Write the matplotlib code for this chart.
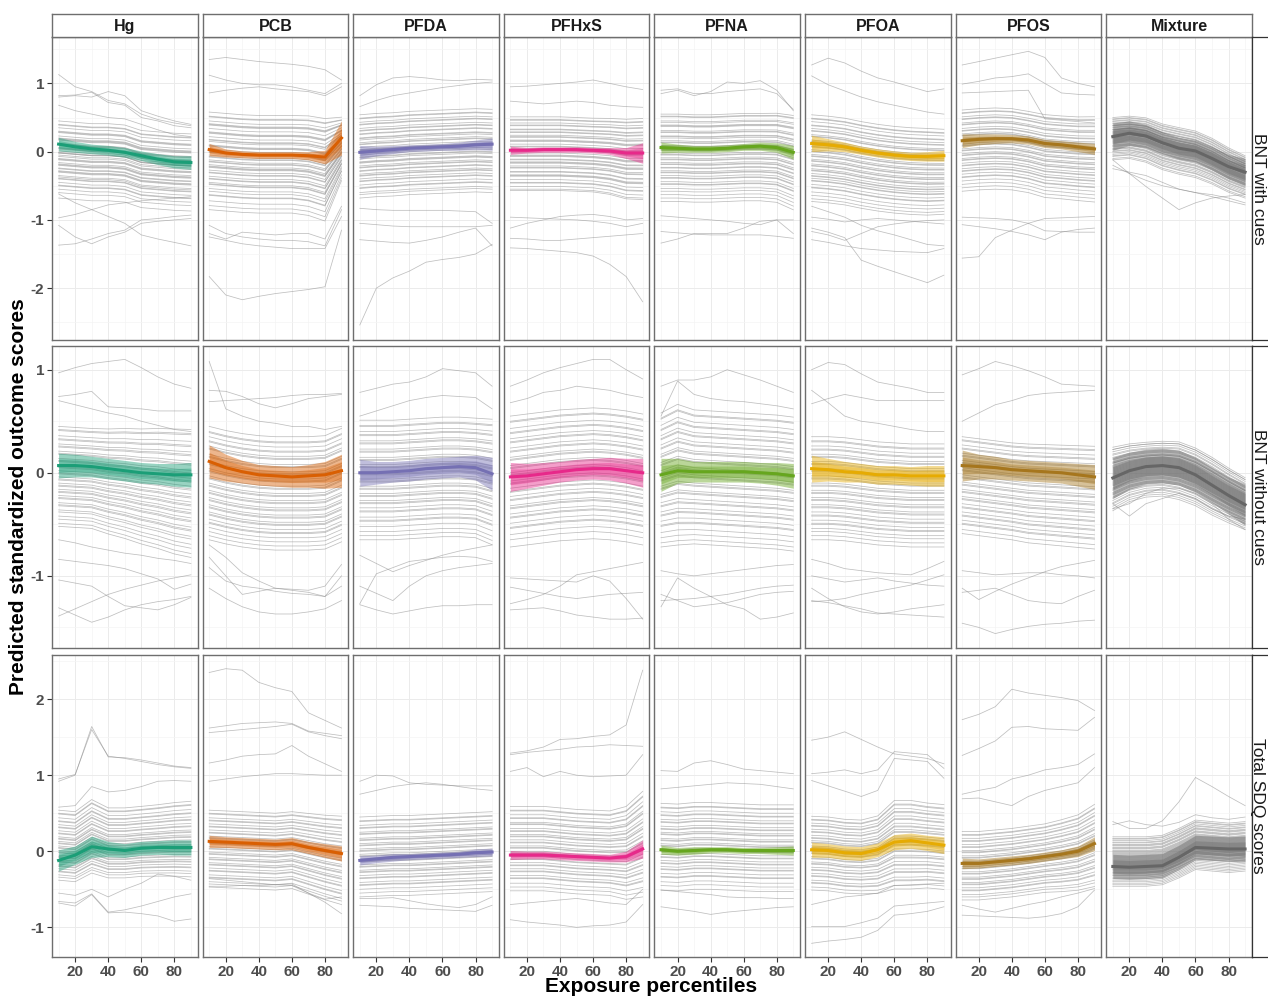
import matplotlib
matplotlib.use('Agg')
import matplotlib.pyplot as plt
import numpy as np
from matplotlib.ticker import FixedLocator

plt.rcParams['font.family'] = ['Liberation Sans', 'DejaVu Sans']
plt.rcParams['axes.unicode_minus'] = False

percentiles = [10, 20, 30, 40, 50, 60, 70, 80, 90]
exposures = ['Hg', 'PCB', 'PFDA', 'PFHxS', 'PFNA', 'PFOA', 'PFOS', 'Mixture']
outcomes = ['BNT with cues', 'BNT without cues', 'Total SDQ scores']
colors = ['#1B9E77', '#D95F02', '#7570B3', '#E7298A', '#66A61E', '#E6AB02', '#A6761D', '#666666']

# ---------------- BNT with cues ----------------
mean_cues = [
    [0.11, 0.07, 0.04, 0.02, -0.01, -0.06, -0.11, -0.15, -0.16],
    [0.03, -0.02, -0.04, -0.05, -0.05, -0.05, -0.06, -0.08, 0.20],
    [-0.01, 0.01, 0.03, 0.05, 0.06, 0.07, 0.08, 0.10, 0.11],
    [0.02, 0.02, 0.03, 0.03, 0.03, 0.02, 0.01, -0.02, -0.02],
    [0.06, 0.05, 0.04, 0.04, 0.05, 0.07, 0.08, 0.06, -0.01],
    [0.12, 0.10, 0.07, 0.02, -0.02, -0.05, -0.07, -0.07, -0.06],
    [0.16, 0.18, 0.19, 0.19, 0.17, 0.12, 0.10, 0.07, 0.04],
    [0.22, 0.27, 0.23, 0.13, 0.05, 0.01, -0.10, -0.22, -0.30],
]
band_cues = [
    [0.10, 0.08, 0.07, 0.07, 0.07, 0.07, 0.08, 0.09, 0.10],
    [0.09, 0.06, 0.05, 0.05, 0.05, 0.05, 0.06, 0.10, 0.25],
    [0.10, 0.07, 0.06, 0.05, 0.05, 0.05, 0.06, 0.07, 0.09],
    [0.06, 0.04, 0.04, 0.04, 0.04, 0.04, 0.05, 0.08, 0.15],
    [0.08, 0.06, 0.05, 0.05, 0.05, 0.05, 0.06, 0.07, 0.10],
    [0.12, 0.09, 0.07, 0.06, 0.06, 0.06, 0.06, 0.07, 0.08],
    [0.10, 0.08, 0.07, 0.06, 0.06, 0.06, 0.06, 0.07, 0.08],
    [0.20, 0.18, 0.17, 0.16, 0.16, 0.16, 0.17, 0.18, 0.20],
]
center_cues = [
    [-0.08, -0.10, -0.12, -0.12, -0.14, -0.22, -0.24, -0.26, -0.27],
    [-0.12, -0.14, -0.16, -0.17, -0.17, -0.17, -0.19, -0.25, 0.05],
    [-0.10, -0.08, -0.07, -0.05, -0.04, -0.03, -0.02, -0.01, -0.02],
    [-0.05, -0.05, -0.05, -0.05, -0.06, -0.07, -0.09, -0.13, -0.13],
    [-0.08, -0.08, -0.09, -0.09, -0.08, -0.07, -0.07, -0.08, -0.15],
    [-0.08, -0.10, -0.13, -0.18, -0.22, -0.25, -0.27, -0.28, -0.28],
    [-0.02, 0.00, 0.01, 0.00, -0.04, -0.10, -0.12, -0.14, -0.15],
    [0.18, 0.20, 0.16, 0.06, 0.00, -0.05, -0.15, -0.28, -0.38],
]
spread_cues = [
    [1, 1, 1, 1, 1, 1, 1, 1, 1],
    [1, 1, 1, 1, 1, 1, 1.02, 1.05, 0.65],
    [1, 1, 1, 1, 1, 1, 1, 1, 1],
    [1, 1, 1, 1, 1, 1, 1.03, 1.08, 1.1],
    [1, 1, 1, 1, 1, 1, 1, 1.02, 1.08],
    [1, 1, 1, 1, 1, 1, 1, 1, 0.98],
    [1, 1, 1, 1, 1, 1.02, 1.02, 1.03, 1.05],
    [1, 1, 1.05, 1.08, 1.1, 1.1, 1.08, 1.05, 1.0],
]
offsets_cues = [
    [0.53, 0.48, 0.47, 0.43, 0.38, 0.37, 0.36, 0.31, 0.28, 0.27, 0.26, 0.25, 0.20, 0.19, 0.18, 0.14,
     0.13, 0.12, 0.09, 0.07, 0.06, 0.06, 0.03, 0.01, -0.02, -0.03, -0.04, -0.08, -0.10, -0.11, -0.12,
     -0.16, -0.17, -0.20, -0.21, -0.22, -0.27, -0.29, -0.31, -0.32, -0.37, -0.41, -0.42, -0.47, -0.52,
     -0.60],
    [0.70, 0.64, 0.63, 0.57, 0.53, 0.52, 0.51, 0.46, 0.41, 0.40, 0.39, 0.34, 0.30, 0.29, 0.27, 0.22,
     0.21, 0.20, 0.16, 0.13, 0.12, 0.11, 0.07, 0.05, 0.04, 0.00, -0.02, -0.03, -0.07, -0.09, -0.10,
     -0.11, -0.15, -0.18, -0.19, -0.24, -0.27, -0.28, -0.33, -0.35, -0.36, -0.42, -0.46, -0.51, -0.52,
     -0.60, -0.67, -0.73],
    [0.64, 0.59, 0.58, 0.53, 0.50, 0.49, 0.44, 0.41, 0.40, 0.36, 0.35, 0.30, 0.29, 0.27, 0.23, 0.21,
     0.20, 0.16, 0.13, 0.12, 0.11, 0.07, 0.05, 0.02, 0.01, -0.01, -0.05, -0.06, -0.07, -0.11, -0.13,
     -0.14, -0.18, -0.19, -0.23, -0.25, -0.26, -0.30, -0.33, -0.34, -0.39, -0.43, -0.44, -0.50, -0.53,
     -0.58],
    [0.56, 0.52, 0.51, 0.47, 0.44, 0.43, 0.38, 0.37, 0.34, 0.33, 0.29, 0.27, 0.26, 0.22, 0.21, 0.20,
     0.16, 0.13, 0.12, 0.09, 0.08, 0.07, 0.03, 0.00, -0.01, -0.02, -0.06, -0.07, -0.10, -0.11, -0.12,
     -0.16, -0.18, -0.19, -0.24, -0.25, -0.29, -0.30, -0.31, -0.36, -0.40, -0.41, -0.46, -0.50, -0.52],
    [0.63, 0.60, 0.59, 0.53, 0.51, 0.47, 0.46, 0.45, 0.39, 0.37, 0.36, 0.31, 0.30, 0.28, 0.24, 0.22,
     0.21, 0.17, 0.16, 0.12, 0.11, 0.10, 0.06, 0.04, 0.03, -0.01, -0.03, -0.04, -0.08, -0.10, -0.11,
     -0.15, -0.16, -0.20, -0.22, -0.23, -0.27, -0.30, -0.31, -0.36, -0.39, -0.40, -0.46, -0.50, -0.55,
     -0.60, -0.65],
    [0.62, 0.57, 0.56, 0.52, 0.47, 0.46, 0.42, 0.39, 0.38, 0.33, 0.31, 0.30, 0.25, 0.23, 0.22, 0.18,
     0.16, 0.15, 0.11, 0.09, 0.08, 0.04, 0.02, 0.01, -0.03, -0.05, -0.06, -0.10, -0.12, -0.13, -0.17,
     -0.19, -0.20, -0.24, -0.27, -0.28, -0.31, -0.34, -0.35, -0.40, -0.44, -0.45, -0.51, -0.56, -0.61,
     -0.65],
    [0.63, 0.59, 0.58, 0.53, 0.50, 0.49, 0.44, 0.42, 0.41, 0.36, 0.33, 0.32, 0.28, 0.26, 0.25, 0.20,
     0.18, 0.17, 0.13, 0.11, 0.10, 0.06, 0.04, 0.03, -0.01, -0.03, -0.04, -0.08, -0.10, -0.11, -0.15,
     -0.18, -0.19, -0.23, -0.26, -0.27, -0.31, -0.35, -0.36, -0.41, -0.46, -0.51, -0.56],
    [0.32, 0.30, 0.29, 0.27, 0.26, 0.24, 0.23, 0.21, 0.20, 0.20, 0.18, 0.17, 0.15, 0.14, 0.14, 0.12,
     0.11, 0.10, 0.09, 0.08, 0.07, 0.06, 0.05, 0.05, 0.03, 0.02, 0.01, 0.00, -0.01, -0.02, -0.03,
     -0.04, -0.05, -0.06, -0.08, -0.09, -0.10, -0.11, -0.13, -0.14, -0.15, -0.17, -0.18, -0.20, -0.22,
     -0.24, -0.25, -0.28, -0.30],
]
extra_cues = [
    [[1.13, 0.95, 0.88, 0.75, 0.70, 0.55, 0.47, 0.42, 0.38],
     [0.82, 0.83, 0.87, 0.72, 0.68, 0.50, 0.45, 0.38, 0.35],
     [0.80, 0.82, 0.80, 0.88, 0.82, 0.60, 0.52, 0.45, 0.40],
     [0.68, 0.60, 0.55, 0.50, 0.48, 0.40, 0.32, 0.25, 0.22],
     [-1.37, -1.35, -1.28, -1.20, -1.15, -1.00, -0.98, -0.95, -0.93],
     [-1.08, -1.25, -1.35, -1.25, -1.18, -1.05, -1.02, -1.00, -0.98],
     [-0.97, -0.92, -0.85, -0.78, -0.75, -0.72, -0.70, -0.68, -0.66],
     [-0.62, -0.75, -0.85, -0.95, -1.05, -1.22, -1.28, -1.33, -1.38]],
    [[1.35, 1.38, 1.35, 1.32, 1.30, 1.28, 1.25, 1.20, 1.05],
     [1.12, 1.05, 1.00, 0.98, 0.98, 0.95, 0.90, 0.85, 1.00],
     [0.86, 0.90, 0.93, 0.95, 0.92, 0.90, 0.88, 0.82, 0.95],
     [-1.83, -2.10, -2.17, -2.12, -2.08, -2.05, -2.02, -1.98, -1.15],
     [-1.08, -1.20, -1.25, -1.28, -1.30, -1.30, -1.32, -1.38, -0.85],
     [-1.25, -1.30, -1.35, -1.38, -1.40, -1.42, -1.42, -1.42, -0.95],
     [-1.20, -1.28, -1.18, -1.20, -1.22, -1.20, -1.20, -1.28, -0.80]],
    [[0.82, 0.98, 1.08, 1.10, 1.08, 1.05, 1.04, 1.06, 1.05],
     [0.66, 0.75, 0.82, 0.86, 0.90, 0.94, 0.97, 1.00, 1.02],
     [-2.54, -2.00, -1.85, -1.75, -1.62, -1.58, -1.55, -1.50, -1.36],
     [-1.29, -1.31, -1.33, -1.34, -1.30, -1.25, -1.18, -1.12, -1.38],
     [-1.05, -1.07, -1.09, -1.10, -1.10, -1.10, -1.10, -1.10, -1.08],
     [-0.83, -0.85, -0.86, -0.86, -0.86, -0.86, -0.87, -0.88, -1.05]],
    [[0.95, 0.96, 0.98, 1.00, 1.02, 1.05, 1.00, 0.95, 0.91],
     [0.74, 0.72, 0.70, 0.72, 0.74, 0.72, 0.68, 0.66, 0.65],
     [-1.41, -1.42, -1.44, -1.46, -1.48, -1.53, -1.65, -1.83, -2.20],
     [-1.27, -1.28, -1.30, -1.30, -1.28, -1.26, -1.24, -1.22, -1.20],
     [-0.96, -0.97, -0.98, -0.99, -1.00, -1.02, -1.05, -1.10, -1.05],
     [-1.12, -1.05, -1.00, -0.95, -0.93, -0.92, -0.95, -1.00, -0.98]],
    [[0.85, 0.90, 0.82, 0.88, 1.02, 1.00, 1.04, 0.90, 0.60],
     [0.90, 0.92, 0.85, 0.85, 0.88, 0.90, 0.92, 0.85, 0.62],
     [-1.34, -1.28, -1.20, -1.20, -1.20, -1.12, -1.02, -1.00, -1.00],
     [-1.17, -1.19, -1.21, -1.22, -1.22, -1.22, -1.22, -1.24, -1.27],
     [-0.94, -0.96, -0.98, -1.00, -1.02, -1.05, -1.07, -1.00, -1.20]],
    [[1.27, 1.37, 1.30, 1.18, 1.08, 1.02, 0.95, 0.88, 0.92],
     [1.11, 0.98, 0.89, 0.80, 0.73, 0.68, 0.63, 0.58, 0.55],
     [-1.12, -1.18, -1.26, -1.59, -1.68, -1.76, -1.84, -1.92, -1.81],
     [-1.17, -1.22, -1.30, -1.20, -1.10, -1.06, -1.03, -1.01, -1.00],
     [-1.29, -1.33, -1.38, -1.42, -1.44, -1.46, -1.47, -1.48, -1.42],
     [-0.80, -0.88, -0.96, -1.08, -1.16, -1.22, -1.29, -1.36, -1.38],
     [-0.96, -0.99, -1.03, -1.00, -0.98, -1.00, -1.02, -1.04, -1.06]],
    [[1.27, 1.32, 1.37, 1.42, 1.47, 1.38, 1.08, 1.00, 0.95],
     [0.99, 1.03, 1.08, 1.10, 1.14, 1.00, 0.86, 0.84, 0.83],
     [0.86, 0.87, 0.88, 0.89, 0.90, 0.48, 0.46, 0.44, 0.42],
     [-1.56, -1.54, -1.26, -1.15, -1.05, -0.98, -0.97, -0.96, -0.95],
     [-1.07, -1.10, -1.13, -1.17, -1.22, -1.29, -1.18, -1.14, -1.12],
     [-0.96, -0.97, -0.98, -1.00, -1.05, -1.16, -1.17, -1.18, -1.18]],
    [[-0.12, -0.32, -0.51, -0.68, -0.85, -0.75, -0.68, -0.65, -0.63],
     [-0.20, -0.32, -0.42, -0.50, -0.55, -0.60, -0.63, -0.68, -0.75],
     [-0.25, -0.30, -0.35, -0.45, -0.55, -0.60, -0.66, -0.72, -0.78]],
]

# ---------------- BNT without cues ----------------
mean_nocues = [
    [0.07, 0.07, 0.06, 0.04, 0.02, 0.00, -0.01, -0.02, -0.02],
    [0.11, 0.05, 0.01, -0.02, -0.03, -0.04, -0.03, -0.02, 0.02],
    [0.00, 0.00, 0.01, 0.02, 0.04, 0.05, 0.06, 0.05, -0.01],
    [-0.04, -0.03, -0.01, 0.01, 0.03, 0.04, 0.04, 0.02, 0.00],
    [-0.02, 0.02, 0.01, 0.01, 0.01, 0.01, 0.00, -0.01, -0.03],
    [0.04, 0.03, 0.01, 0.00, -0.02, -0.02, -0.03, -0.03, -0.03],
    [0.07, 0.06, 0.05, 0.03, 0.02, 0.01, 0.00, -0.02, -0.04],
    [-0.05, 0.02, 0.06, 0.07, 0.05, -0.02, -0.12, -0.22, -0.31],
]
band_nocues = [
    [0.12, 0.11, 0.10, 0.10, 0.10, 0.10, 0.10, 0.11, 0.12],
    [0.16, 0.13, 0.11, 0.10, 0.10, 0.10, 0.11, 0.13, 0.16],
    [0.13, 0.11, 0.10, 0.10, 0.10, 0.10, 0.10, 0.12, 0.16],
    [0.14, 0.12, 0.11, 0.10, 0.10, 0.10, 0.11, 0.12, 0.14],
    [0.16, 0.12, 0.10, 0.10, 0.10, 0.10, 0.10, 0.11, 0.12],
    [0.13, 0.11, 0.10, 0.09, 0.09, 0.09, 0.09, 0.10, 0.10],
    [0.15, 0.12, 0.11, 0.10, 0.10, 0.10, 0.10, 0.11, 0.12],
    [0.20, 0.18, 0.17, 0.17, 0.17, 0.17, 0.17, 0.18, 0.20],
]
center_nocues = [
    [-0.05, -0.06, -0.07, -0.10, -0.12, -0.15, -0.17, -0.20, -0.22],
    [-0.10, -0.14, -0.17, -0.19, -0.20, -0.20, -0.20, -0.19, -0.12],
    [-0.08, -0.08, -0.08, -0.07, -0.06, -0.05, -0.05, -0.06, -0.10],
    [-0.12, -0.10, -0.08, -0.06, -0.05, -0.04, -0.05, -0.07, -0.10],
    [-0.10, -0.05, -0.07, -0.08, -0.09, -0.10, -0.11, -0.12, -0.14],
    [-0.15, -0.15, -0.16, -0.18, -0.20, -0.21, -0.22, -0.22, -0.22],
    [-0.10, -0.12, -0.14, -0.16, -0.18, -0.19, -0.20, -0.21, -0.22],
    [-0.06, 0.00, 0.03, 0.04, 0.02, -0.04, -0.13, -0.22, -0.30],
]
spread_nocues = [
    [1, 1, 1, 1.05, 1.1, 1.15, 1.2, 1.25, 1.28],
    [1, 1, 1, 1, 1, 1, 1, 1, 1],
    [1, 1, 1, 1, 1, 1, 1, 1, 1.05],
    [1, 1, 1, 1, 1, 1, 1, 1, 1],
    [1, 1.05, 1, 1, 1, 1, 1, 1, 1],
    [1, 1, 1, 1, 1, 1, 1, 1, 1],
    [1, 1, 1, 1, 1.02, 1.03, 1.04, 1.05, 1.06],
    [1.1, 1.0, 0.95, 0.95, 1.0, 1.0, 1.0, 0.95, 0.9],
]
offsets_nocues = [
    [0.50, 0.47, 0.46, 0.41, 0.38, 0.37, 0.33, 0.31, 0.30, 0.26, 0.24, 0.23, 0.19, 0.17, 0.16, 0.13,
     0.11, 0.10, 0.07, 0.05, 0.04, 0.01, -0.01, -0.02, -0.05, -0.07, -0.08, -0.11, -0.13, -0.14, -0.17,
     -0.19, -0.20, -0.24, -0.26, -0.27, -0.31, -0.33, -0.37, -0.40, -0.44, -0.47],
    [0.55, 0.50, 0.49, 0.45, 0.41, 0.40, 0.36, 0.34, 0.33, 0.28, 0.26, 0.25, 0.21, 0.19, 0.18, 0.14,
     0.12, 0.11, 0.07, 0.05, 0.04, 0.00, -0.02, -0.03, -0.07, -0.09, -0.10, -0.14, -0.16, -0.17, -0.21,
     -0.23, -0.24, -0.28, -0.30, -0.31, -0.35, -0.38, -0.39, -0.43, -0.47, -0.51, -0.55],
    [0.59, 0.54, 0.53, 0.48, 0.45, 0.44, 0.39, 0.37, 0.36, 0.31, 0.29, 0.28, 0.23, 0.21, 0.20, 0.16,
     0.14, 0.13, 0.09, 0.07, 0.06, 0.02, 0.00, -0.01, -0.05, -0.07, -0.08, -0.12, -0.14, -0.15, -0.19,
     -0.21, -0.22, -0.26, -0.29, -0.30, -0.35, -0.38, -0.39, -0.44, -0.49, -0.53, -0.57],
    [0.67, 0.62, 0.61, 0.55, 0.51, 0.50, 0.45, 0.42, 0.41, 0.36, 0.33, 0.32, 0.27, 0.25, 0.24, 0.19,
     0.17, 0.16, 0.12, 0.10, 0.09, 0.04, 0.02, 0.01, -0.03, -0.06, -0.07, -0.11, -0.14, -0.15, -0.20,
     -0.22, -0.23, -0.28, -0.31, -0.32, -0.37, -0.41, -0.42, -0.48, -0.53, -0.60],
    [0.68, 0.63, 0.62, 0.56, 0.52, 0.51, 0.46, 0.43, 0.42, 0.37, 0.34, 0.33, 0.28, 0.26, 0.25, 0.20,
     0.18, 0.17, 0.12, 0.10, 0.09, 0.05, 0.03, 0.02, -0.03, -0.05, -0.06, -0.11, -0.13, -0.14, -0.19,
     -0.22, -0.23, -0.28, -0.31, -0.32, -0.37, -0.41, -0.42, -0.48, -0.53, -0.58, -0.62],
    [0.50, 0.46, 0.45, 0.41, 0.38, 0.37, 0.33, 0.31, 0.30, 0.26, 0.24, 0.23, 0.19, 0.17, 0.16, 0.12,
     0.10, 0.09, 0.05, 0.03, 0.02, -0.02, -0.04, -0.05, -0.09, -0.11, -0.12, -0.16, -0.18, -0.19, -0.23,
     -0.26, -0.27, -0.31, -0.34, -0.35, -0.39, -0.42, -0.46, -0.50],
    [0.45, 0.42, 0.41, 0.37, 0.34, 0.33, 0.29, 0.27, 0.26, 0.22, 0.20, 0.19, 0.15, 0.13, 0.12, 0.08,
     0.06, 0.05, 0.01, -0.01, -0.02, -0.06, -0.08, -0.09, -0.13, -0.15, -0.16, -0.20, -0.23, -0.24,
     -0.28, -0.31, -0.32, -0.36, -0.39, -0.40, -0.45, -0.49],
    [0.28, 0.26, 0.26, 0.24, 0.22, 0.21, 0.19, 0.18, 0.17, 0.15, 0.14, 0.14, 0.12, 0.11, 0.10, 0.09,
     0.08, 0.07, 0.06, 0.05, 0.04, 0.03, 0.02, 0.01, 0.00, -0.01, -0.02, -0.03, -0.04, -0.05, -0.06,
     -0.08, -0.09, -0.10, -0.12, -0.13, -0.14, -0.16, -0.17, -0.19, -0.21, -0.22, -0.24, -0.26, -0.28],
]
extra_nocues = [
    [[0.97, 1.02, 1.06, 1.08, 1.10, 1.02, 0.93, 0.86, 0.82],
     [0.74, 0.76, 0.79, 0.64, 0.63, 0.62, 0.60, 0.60, 0.60],
     [0.70, 0.66, 0.62, 0.58, 0.55, 0.50, 0.46, 0.42, 0.40],
     [-1.31, -1.38, -1.45, -1.40, -1.33, -1.28, -1.25, -1.23, -1.20],
     [-1.39, -1.32, -1.25, -1.18, -1.13, -1.09, -1.05, -1.02, -0.99],
     [-1.04, -1.07, -1.10, -1.20, -1.29, -1.31, -1.33, -1.28, -1.21],
     [-0.84, -0.86, -0.88, -0.90, -0.93, -0.98, -1.03, -1.13, -1.08],
     [-0.65, -0.68, -0.72, -0.75, -0.78, -0.80, -0.83, -0.85, -0.88]],
    [[1.08, 0.62, 0.55, 0.50, 0.48, 0.45, 0.45, 0.42, 0.45],
     [0.80, 0.79, 0.74, 0.67, 0.63, 0.67, 0.72, 0.74, 0.76],
     [0.69, 0.70, 0.71, 0.72, 0.73, 0.75, 0.76, 0.76, 0.77],
     [-0.70, -0.82, -0.97, -1.05, -1.12, -1.14, -1.16, -1.20, -1.10],
     [-0.82, -1.00, -1.18, -1.15, -1.12, -1.13, -1.14, -1.10, -0.89],
     [-0.92, -1.05, -1.10, -1.12, -1.15, -1.17, -1.18, -1.20, -1.00],
     [-1.12, -1.22, -1.30, -1.35, -1.37, -1.37, -1.35, -1.32, -1.24]],
    [[0.78, 0.82, 0.86, 0.88, 0.93, 1.01, 0.99, 0.97, 0.84],
     [0.55, 0.60, 0.65, 0.70, 0.73, 0.75, 0.74, 0.73, 0.62],
     [-1.27, -0.98, -0.92, -0.86, -0.84, -0.82, -0.81, -0.82, -0.86],
     [-1.10, -1.17, -1.24, -1.10, -1.00, -0.95, -0.92, -0.90, -0.88],
     [-1.28, -1.33, -1.37, -1.34, -1.31, -1.29, -1.29, -1.28, -1.28],
     [-0.80, -0.88, -0.96, -0.90, -0.85, -0.80, -0.76, -0.73, -0.70]],
    [[0.84, 0.90, 0.97, 1.02, 1.06, 1.10, 1.10, 1.00, 0.91],
     [0.68, 0.72, 0.78, 0.80, 0.84, 0.82, 0.80, 0.76, 0.73],
     [-1.27, -1.23, -1.18, -1.10, -0.99, -0.96, -0.93, -0.90, -0.87],
     [-1.33, -1.32, -1.31, -1.34, -1.38, -1.40, -1.42, -1.42, -1.41],
     [-1.11, -1.14, -1.17, -1.20, -1.22, -1.20, -1.18, -1.17, -1.16],
     [-1.02, -1.03, -1.04, -1.05, -1.06, -1.00, -1.05, -1.22, -1.42]],
    [[0.84, 0.90, 0.90, 0.93, 1.00, 0.95, 0.90, 0.84, 0.78],
     [0.55, 0.89, 0.76, 0.72, 0.70, 0.69, 0.67, 0.65, 0.62],
     [-1.30, -1.02, -1.12, -1.20, -1.28, -1.32, -1.42, -1.40, -1.36],
     [-1.18, -1.24, -1.30, -1.28, -1.26, -1.22, -1.18, -1.16, -1.15],
     [-1.24, -1.23, -1.22, -1.20, -1.18, -1.15, -1.12, -1.10, -1.09],
     [-0.95, -0.98, -1.00, -0.98, -0.96, -0.94, -0.92, -0.90, -0.89]],
    [[1.00, 1.07, 1.05, 0.96, 0.88, 0.85, 0.82, 0.78, 0.78],
     [0.80, 0.68, 0.55, 0.50, 0.48, 0.45, 0.42, 0.40, 0.40],
     [0.67, 0.72, 0.76, 0.73, 0.70, 0.70, 0.70, 0.70, 0.70],
     [-1.24, -1.26, -1.29, -1.32, -1.36, -1.37, -1.38, -1.39, -1.40],
     [-1.12, -1.22, -1.30, -1.35, -1.37, -1.35, -1.32, -1.30, -1.28],
     [-1.25, -1.24, -1.22, -1.18, -1.15, -1.12, -1.09, -1.04, -0.99],
     [-0.84, -0.88, -0.93, -0.95, -0.97, -0.98, -0.99, -0.93, -0.86],
     [-1.00, -1.03, -1.06, -1.04, -1.02, -1.05, -1.07, -1.09, -1.10]],
    [[0.95, 1.01, 1.08, 1.04, 0.99, 0.93, 0.86, 0.85, 0.84],
     [0.50, 0.58, 0.66, 0.70, 0.75, 0.77, 0.78, 0.79, 0.80],
     [-1.46, -1.50, -1.56, -1.52, -1.49, -1.47, -1.46, -1.44, -1.43],
     [-1.12, -1.23, -1.15, -1.08, -1.02, -0.96, -0.91, -0.88, -0.85],
     [-1.16, -1.14, -1.12, -1.18, -1.24, -1.26, -1.27, -1.20, -1.14],
     [-0.95, -0.97, -0.99, -0.98, -0.97, -0.97, -0.99, -1.00, -1.02]],
    [[-0.30, -0.42, -0.30, -0.25, -0.20, -0.25, -0.35, -0.42, -0.45],
     [-0.35, -0.30, -0.20, -0.15, -0.15, -0.20, -0.30, -0.45, -0.55]],
]

# ---------------- Total SDQ scores ----------------
mean_sdq = [
    [-0.12, -0.05, 0.06, 0.03, 0.01, 0.04, 0.05, 0.05, 0.05],
    [0.13, 0.12, 0.11, 0.10, 0.09, 0.10, 0.05, 0.01, -0.03],
    [-0.12, -0.10, -0.08, -0.07, -0.06, -0.05, -0.04, -0.02, -0.01],
    [-0.05, -0.05, -0.05, -0.06, -0.07, -0.08, -0.09, -0.07, 0.03],
    [0.02, 0.00, 0.01, 0.02, 0.02, 0.01, 0.01, 0.01, 0.01],
    [0.02, 0.01, -0.02, -0.03, 0.02, 0.12, 0.14, 0.11, 0.08],
    [-0.16, -0.16, -0.14, -0.12, -0.10, -0.07, -0.04, 0.00, 0.10],
    [-0.20, -0.21, -0.20, -0.19, -0.08, 0.05, 0.04, 0.03, 0.03],
]
band_sdq = [
    [0.14, 0.12, 0.14, 0.10, 0.09, 0.09, 0.09, 0.10, 0.10],
    [0.08, 0.07, 0.07, 0.07, 0.07, 0.08, 0.08, 0.09, 0.10],
    [0.06, 0.05, 0.05, 0.04, 0.04, 0.04, 0.04, 0.05, 0.05],
    [0.06, 0.05, 0.05, 0.05, 0.05, 0.05, 0.05, 0.07, 0.12],
    [0.06, 0.05, 0.05, 0.04, 0.04, 0.04, 0.04, 0.05, 0.06],
    [0.10, 0.09, 0.09, 0.09, 0.09, 0.10, 0.10, 0.10, 0.11],
    [0.07, 0.06, 0.06, 0.06, 0.06, 0.06, 0.06, 0.07, 0.09],
    [0.16, 0.16, 0.16, 0.16, 0.16, 0.16, 0.16, 0.16, 0.17],
]
center_sdq = [
    [-0.05, -0.07, 0.06, -0.02, -0.02, 0.00, 0.01, 0.02, 0.02],
    [0.00, -0.01, -0.02, -0.03, -0.04, -0.02, -0.07, -0.12, -0.16],
    [-0.10, -0.09, -0.08, -0.08, -0.07, -0.06, -0.05, -0.04, -0.03],
    [0.00, 0.00, 0.00, -0.02, -0.04, -0.05, -0.06, -0.06, 0.05],
    [0.02, 0.01, 0.03, 0.03, 0.02, 0.01, 0.00, 0.00, 0.00],
    [-0.03, -0.04, -0.07, -0.08, -0.05, 0.08, 0.08, 0.07, 0.05],
    [-0.22, -0.22, -0.20, -0.18, -0.15, -0.12, -0.09, -0.05, 0.04],
    [-0.13, -0.13, -0.13, -0.11, -0.02, 0.09, 0.07, 0.05, 0.07],
]
spread_sdq = [
    [1, 1, 1.05, 1, 1, 1, 1.02, 1.05, 1.08],
    [1, 1, 1, 1, 1, 1, 1.05, 1.1, 1.15],
    [1, 1, 1, 1, 1, 1, 1, 1, 1],
    [1, 1, 1, 1, 1, 1, 1, 1.1, 1.25],
    [1, 1, 1, 1, 1, 1, 1, 1, 1],
    [1, 1, 1, 1, 1.05, 1.2, 1.2, 1.15, 1.15],
    [1, 1, 1, 1, 1, 1, 1.05, 1.1, 1.2],
    [1, 1, 1, 1, 1, 1, 1, 1, 1],
]
offsets_sdq = [
    [0.59, 0.55, 0.54, 0.49, 0.45, 0.44, 0.40, 0.37, 0.36, 0.32, 0.29, 0.28, 0.24, 0.22, 0.21, 0.18,
     0.16, 0.15, 0.12, 0.10, 0.09, 0.06, 0.04, 0.03, 0.00, -0.02, -0.03, -0.06, -0.08, -0.09, -0.12,
     -0.14, -0.15, -0.18, -0.21, -0.22, -0.26, -0.29, -0.33],
    [0.54, 0.50, 0.49, 0.44, 0.41, 0.40, 0.36, 0.33, 0.32, 0.28, 0.25, 0.24, 0.20, 0.18, 0.17, 0.13,
     0.11, 0.10, 0.06, 0.04, 0.03, -0.01, -0.03, -0.04, -0.08, -0.10, -0.11, -0.15, -0.17, -0.18, -0.22,
     -0.25, -0.26, -0.31, -0.34, -0.35, -0.40, -0.43, -0.47],
    [0.55, 0.50, 0.49, 0.44, 0.41, 0.40, 0.35, 0.33, 0.32, 0.27, 0.25, 0.24, 0.20, 0.18, 0.17, 0.13,
     0.11, 0.10, 0.06, 0.04, 0.03, -0.01, -0.03, -0.04, -0.08, -0.10, -0.11, -0.15, -0.17, -0.18, -0.22,
     -0.25, -0.26, -0.31, -0.34, -0.35, -0.40, -0.45, -0.50],
    [0.59, 0.54, 0.53, 0.48, 0.44, 0.43, 0.38, 0.36, 0.35, 0.30, 0.27, 0.26, 0.22, 0.20, 0.19, 0.15,
     0.12, 0.11, 0.07, 0.05, 0.04, 0.00, -0.02, -0.03, -0.07, -0.10, -0.11, -0.15, -0.18, -0.19, -0.23,
     -0.26, -0.27, -0.32, -0.35, -0.36, -0.42, -0.47, -0.52],
    [0.61, 0.56, 0.55, 0.50, 0.46, 0.45, 0.40, 0.37, 0.36, 0.31, 0.28, 0.27, 0.23, 0.21, 0.20, 0.15,
     0.13, 0.12, 0.08, 0.06, 0.05, 0.01, -0.01, -0.02, -0.06, -0.09, -0.10, -0.14, -0.17, -0.18, -0.22,
     -0.25, -0.26, -0.31, -0.35, -0.36, -0.42, -0.47, -0.53],
    [0.49, 0.45, 0.44, 0.40, 0.37, 0.36, 0.32, 0.29, 0.28, 0.24, 0.21, 0.20, 0.17, 0.15, 0.14, 0.10,
     0.08, 0.07, 0.03, 0.01, 0.00, -0.04, -0.06, -0.07, -0.11, -0.13, -0.14, -0.18, -0.21, -0.22, -0.26,
     -0.29, -0.30, -0.35, -0.38, -0.39, -0.44, -0.48],
    [0.48, 0.44, 0.43, 0.39, 0.36, 0.35, 0.31, 0.28, 0.27, 0.23, 0.21, 0.20, 0.16, 0.14, 0.13, 0.09,
     0.07, 0.06, 0.02, 0.00, -0.01, -0.05, -0.07, -0.08, -0.12, -0.14, -0.15, -0.19, -0.21, -0.22,
     -0.26, -0.29, -0.30, -0.35, -0.38, -0.42],
    [0.32, 0.30, 0.29, 0.27, 0.25, 0.24, 0.22, 0.21, 0.20, 0.18, 0.17, 0.16, 0.14, 0.13, 0.12, 0.11,
     0.10, 0.09, 0.08, 0.07, 0.06, 0.05, 0.04, 0.03, 0.02, 0.01, 0.00, -0.01, -0.02, -0.03, -0.04,
     -0.05, -0.06, -0.07, -0.09, -0.10, -0.11, -0.12, -0.14, -0.15, -0.16, -0.18, -0.19, -0.21, -0.23,
     -0.25, -0.27, -0.29, -0.31, -0.33],
]
extra_sdq = [
    [[0.92, 1.00, 1.64, 1.24, 1.23, 1.20, 1.16, 1.12, 1.10],
     [0.95, 1.01, 1.60, 1.25, 1.22, 1.18, 1.14, 1.11, 1.09],
     [0.58, 0.60, 0.85, 0.78, 0.80, 0.85, 0.92, 0.93, 0.92],
     [-0.68, -0.72, -0.57, -0.81, -0.80, -0.82, -0.85, -0.92, -0.89],
     [-0.66, -0.68, -0.56, -0.80, -0.77, -0.72, -0.66, -0.60, -0.56],
     [-0.55, -0.58, -0.50, -0.60, -0.50, -0.42, -0.30, -0.33, -0.38]],
    [[2.35, 2.40, 2.38, 2.22, 2.15, 2.10, 1.82, 1.72, 1.62],
     [1.62, 1.65, 1.68, 1.69, 1.70, 1.68, 1.58, 1.55, 1.52],
     [1.56, 1.58, 1.60, 1.62, 1.64, 1.67, 1.57, 1.52, 1.48],
     [1.16, 1.20, 1.25, 1.27, 1.28, 1.39, 1.25, 1.15, 1.05],
     [0.92, 0.95, 0.98, 1.00, 1.02, 1.02, 1.01, 1.00, 1.00],
     [-0.46, -0.46, -0.45, -0.45, -0.44, -0.43, -0.55, -0.67, -0.82],
     [-0.36, -0.38, -0.40, -0.42, -0.44, -0.45, -0.55, -0.63, -0.60]],
    [[0.92, 1.00, 0.99, 0.90, 0.88, 0.87, 0.86, 0.86, 0.86],
     [0.75, 0.80, 0.85, 0.88, 0.90, 0.88, 0.85, 0.82, 0.80],
     [-0.71, -0.72, -0.73, -0.75, -0.76, -0.77, -0.78, -0.79, -0.71],
     [-0.62, -0.62, -0.61, -0.65, -0.69, -0.72, -0.74, -0.70, -0.60]],
    [[1.29, 1.32, 1.37, 1.47, 1.48, 1.51, 1.53, 1.66, 2.38],
     [1.27, 1.30, 1.32, 1.34, 1.37, 1.38, 1.40, 1.39, 1.38],
     [1.05, 1.10, 0.98, 1.05, 1.00, 0.98, 0.99, 1.00, 1.27],
     [-0.90, -0.93, -0.95, -0.97, -1.00, -0.98, -0.97, -0.93, -0.70],
     [-0.70, -0.68, -0.66, -0.64, -0.62, -0.65, -0.68, -0.70, -0.50]],
    [[1.06, 1.05, 1.16, 1.19, 1.14, 1.08, 1.06, 1.04, 1.02],
     [0.82, 0.84, 0.86, 0.88, 0.90, 0.89, 0.88, 0.85, 0.82],
     [-0.73, -0.76, -0.79, -0.83, -0.80, -0.78, -0.76, -0.74, -0.73],
     [-0.51, -0.53, -0.55, -0.57, -0.60, -0.61, -0.61, -0.62, -0.62]],
    [[1.46, 1.50, 1.57, 1.47, 1.37, 1.28, 1.25, 1.22, 1.15],
     [1.02, 1.04, 1.07, 1.02, 1.07, 1.31, 1.29, 1.27, 1.09],
     [0.93, 0.86, 0.79, 0.72, 0.80, 1.22, 1.20, 1.18, 0.96],
     [-1.21, -1.18, -1.16, -1.13, -1.04, -0.84, -0.82, -0.79, -0.73],
     [-0.99, -0.99, -0.99, -0.94, -0.88, -0.72, -0.70, -0.68, -0.66],
     [-0.70, -0.65, -0.60, -0.58, -0.55, -0.45, -0.44, -0.43, -0.42]],
    [[1.73, 1.80, 1.90, 2.13, 2.08, 2.05, 2.02, 1.98, 1.85],
     [1.26, 1.35, 1.45, 1.63, 1.64, 1.61, 1.60, 1.59, 1.76],
     [0.75, 0.80, 0.84, 0.95, 1.00, 1.07, 1.10, 1.14, 1.28],
     [0.69, 0.70, 0.65, 0.60, 0.72, 0.80, 0.85, 0.90, 1.10],
     [-0.84, -0.85, -0.86, -0.87, -0.88, -0.86, -0.82, -0.73, -0.51],
     [-0.71, -0.76, -0.80, -0.75, -0.70, -0.66, -0.60, -0.55, -0.49]],
    [[0.39, 0.30, 0.30, 0.40, 0.65, 0.97, 0.85, 0.72, 0.60],
     [0.35, 0.40, 0.35, 0.33, 0.38, 0.48, 0.44, 0.42, 0.45]],
]

rows = [
    (mean_cues, band_cues, center_cues, spread_cues, offsets_cues, extra_cues),
    (mean_nocues, band_nocues, center_nocues, spread_nocues, offsets_nocues, extra_nocues),
    (mean_sdq, band_sdq, center_sdq, spread_sdq, offsets_sdq, extra_sdq),
]
ylims = [(-2.76, 1.68), (-1.70, 1.23), (-1.39, 2.58)]
yticks = [[-2, -1, 0, 1], [-1, 0, 1], [-1, 0, 1, 2]]

W, H = 1268, 998
fig = plt.figure(figsize=(W / 100, H / 100), dpi=100)


def px_axes(left, top, width, height):
    # place an axes using pixel coordinates measured from the top-left corner
    return fig.add_axes([left / W, 1 - (top + height) / H, width / W, height / H])


border = '#6E6E6E'
grey_line = dict(color='#8A8A8A', alpha=0.55, lw=0.55, zorder=1)
tick_kw = dict(fontsize=11, fontweight='bold', color='#4D4D4D')
row_tops = [37, 346, 655]
row_h = [303, 302, 302]
x = np.array(percentiles)

for r, (means, bands, centers, spreads, offsets, extras) in enumerate(rows):
    for c in range(8):
        left = 52 + c * 150.6
        ax = px_axes(left, row_tops[r], 145.5, row_h[r])
        ax.set_xlim(6, 94)
        ax.set_ylim(*ylims[r])
        ax.xaxis.set_major_locator(FixedLocator([20, 40, 60, 80]))
        ax.xaxis.set_minor_locator(FixedLocator([10, 30, 50, 70, 90]))
        ax.yaxis.set_major_locator(FixedLocator(yticks[r]))
        ax.yaxis.set_minor_locator(FixedLocator([v + 0.5 for v in range(-3, 3)]))
        ax.grid(which='major', color='#EBEBEB', lw=0.7, zorder=0)
        ax.grid(which='minor', color='#F4F4F4', lw=0.5, zorder=0)
        ax.set_axisbelow(True)
        for s in ax.spines.values():
            s.set_color(border)
            s.set_linewidth(1.0)

        # individual predicted curves
        cen = np.array(centers[c])
        spr = np.array(spreads[c])
        for off in offsets[c]:
            ax.plot(x, cen + off * spr, **grey_line)
        for line in extras[c]:
            ax.plot(x, line, **grey_line)

        # overall curve with its uncertainty band
        m = np.array(means[c])
        b = np.array(bands[c])
        ax.fill_between(x, m - b, m + b, color=colors[c], alpha=0.45, lw=0, zorder=2)
        ax.fill_between(x, m - b * 0.55, m + b * 0.55, color=colors[c], alpha=0.35, lw=0, zorder=2)
        ax.plot(x, m, color=colors[c], lw=2.2, zorder=3)

        if r == 2:
            ax.tick_params(axis='x', which='major', length=3.5, width=0.8, color='#333333', pad=2)
            ax.set_xticklabels(['20', '40', '60', '80'], **tick_kw)
        else:
            ax.tick_params(axis='x', which='major', length=0, labelbottom=False)
        if c == 0:
            ax.tick_params(axis='y', which='major', length=3.5, width=0.8, color='#333333', pad=2)
            ax.set_yticklabels([str(v) for v in yticks[r]], **tick_kw)
        else:
            ax.tick_params(axis='y', which='major', length=0, labelleft=False)
        ax.tick_params(which='minor', length=0)

        # column strips
        if r == 0:
            st = px_axes(left, 14, 145.5, 23)
            st.set_xticks([])
            st.set_yticks([])
            st.set_facecolor('white')
            for s in st.spines.values():
                s.set_color(border)
                s.set_linewidth(1.0)
            st.text(0.5, 0.45, exposures[c], ha='center', va='center', fontsize=11.5,
                    fontweight='bold', color='#1A1A1A', transform=st.transAxes)

    # row strips on the right
    rs = px_axes(1252, row_tops[r], 20, row_h[r])
    rs.set_xticks([])
    rs.set_yticks([])
    for s in rs.spines.values():
        s.set_color('#333333')
        s.set_linewidth(0.9)
    rs.text(0.3, 0.5, outcomes[r], rotation=270, ha='center', va='center', fontsize=12.5,
            color='#1A1A1A', transform=rs.transAxes)

fig.text(651 / W, 1 - 987 / H, 'Exposure percentiles', ha='center', va='center',
         fontsize=15, fontweight='bold')
fig.text(19 / W, 1 - 497 / H, 'Predicted standardized outcome scores', ha='center', va='center',
         rotation=90, fontsize=15, fontweight='bold')

fig.savefig('out.png', dpi=100)
